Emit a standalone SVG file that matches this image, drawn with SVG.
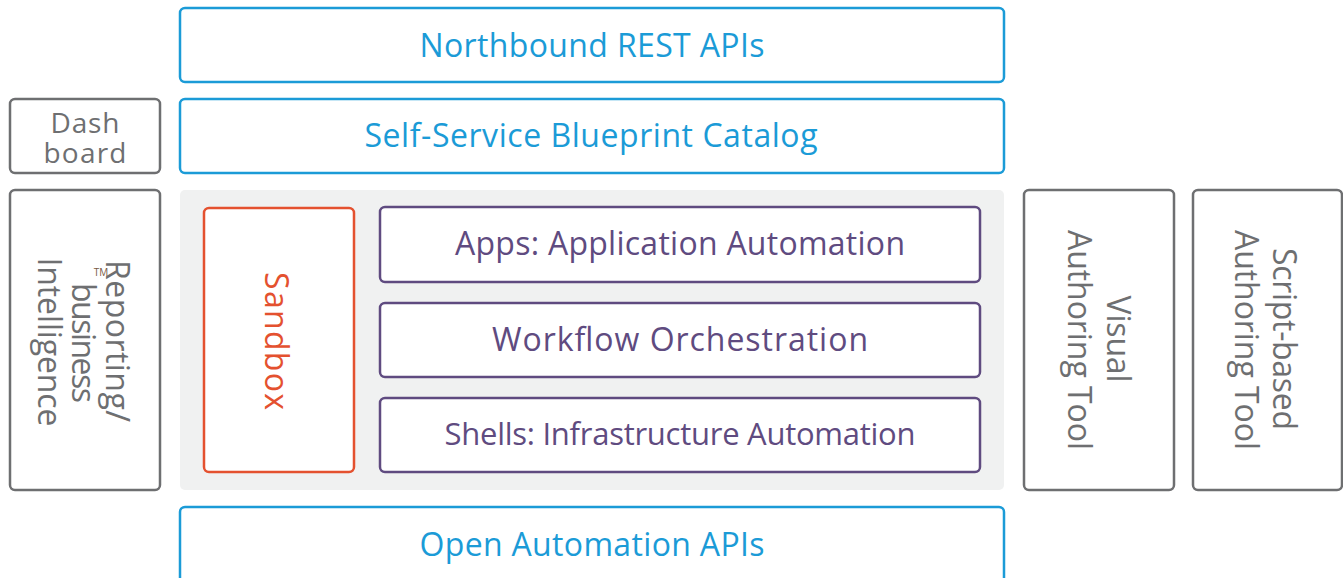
<svg xmlns="http://www.w3.org/2000/svg" width="1343" height="578" viewBox="0 0 1343 578">
<style>
.blue{fill:#fff;stroke:#1b9bd7;stroke-width:2.5}
.gray{fill:#fff;stroke:#6e6f71;stroke-width:2.5}
.purple{fill:#fff;stroke:#5f4b80;stroke-width:2.5}
.red{fill:#fff;stroke:#e4512f;stroke-width:2.5}
text{font-family:"Open Sans","Noto Sans",sans-serif;font-size:32px;text-anchor:middle}
.tb{fill:#1b9bd7}
.tg{fill:#6e6f71}
.tp{fill:#5f4b80}
.tr{fill:#e4512f}
</style>
<rect width="1343" height="578" fill="#fff"/>
<g id="northbound"><rect class="blue" x="180" y="8" width="824" height="74" rx="5"/><text class="tb" x="592" y="57" textLength="345" lengthAdjust="spacing">Northbound REST APIs</text></g>
<g id="catalog"><rect class="blue" x="180" y="99" width="824" height="74" rx="5"/><text class="tb" x="591" y="147" textLength="453" lengthAdjust="spacing">Self-Service Blueprint Catalog</text></g>
<g id="dashboard"><rect class="gray" x="10" y="99" width="150" height="74" rx="5"/><text class="tg" x="85" y="133" style="font-size:28px" textLength="69" lengthAdjust="spacing">Dash</text><text class="tg" x="85" y="163" style="font-size:28px" textLength="83" lengthAdjust="spacing">board</text></g>
<g id="reporting"><rect class="gray" x="10" y="190" width="150" height="300" rx="5"/>
<g transform="translate(85,341) rotate(90)"><text class="tg" x="0" y="-21" textLength="162" lengthAdjust="spacing">Reporting/</text><text class="tg" x="2" y="13" textLength="120" lengthAdjust="spacing">business</text><text class="tg" x="1" y="47" textLength="169" lengthAdjust="spacing">Intelligence</text></g>
<text x="101" y="276" style="font-size:10px;fill:#7a5a43">TM</text></g>
<g id="core-panel"><rect x="180" y="190" width="824" height="300" rx="5" fill="#f0f1f1"/></g>
<g id="sandbox"><rect class="red" x="204" y="208" width="150" height="264" rx="5"/><text class="tr" transform="translate(265,341) rotate(90)" x="0" y="0" textLength="138" lengthAdjust="spacing">Sandbox</text></g>
<g id="apps"><rect class="purple" x="380" y="207" width="600" height="75" rx="5"/><text class="tp" x="680" y="255" textLength="450" lengthAdjust="spacing">Apps: Application Automation</text></g>
<g id="workflow"><rect class="purple" x="380" y="303" width="600" height="74" rx="5"/><text class="tp" x="680" y="351" textLength="376" lengthAdjust="spacing">Workflow Orchestration</text></g>
<g id="shells"><rect class="purple" x="380" y="398" width="600" height="74" rx="5"/><text class="tp" x="680" y="445" style="font-size:31px" textLength="471" lengthAdjust="spacing">Shells: Infrastructure Automation</text></g>
<g id="visual"><rect class="gray" x="1024" y="190" width="150" height="300" rx="5"/><g transform="translate(1099,340) rotate(90)"><text class="tg" x="-1" y="-8" textLength="87" lengthAdjust="spacing">Visual</text><text class="tg" x="0" y="31" textLength="220" lengthAdjust="spacing">Authoring Tool</text></g></g>
<g id="script"><rect class="gray" x="1193" y="190" width="149" height="300" rx="5"/><g transform="translate(1267,340) rotate(90)"><text class="tg" x="-1" y="-6" textLength="182" lengthAdjust="spacing">Script-based</text><text class="tg" x="0" y="32" textLength="220" lengthAdjust="spacing">Authoring Tool</text></g></g>
<g id="open-apis"><rect class="blue" x="180" y="507" width="824" height="90" rx="5"/><text class="tb" x="592" y="556" textLength="345" lengthAdjust="spacing">Open Automation APIs</text></g>
<g id="connectors"></g>
</svg>
